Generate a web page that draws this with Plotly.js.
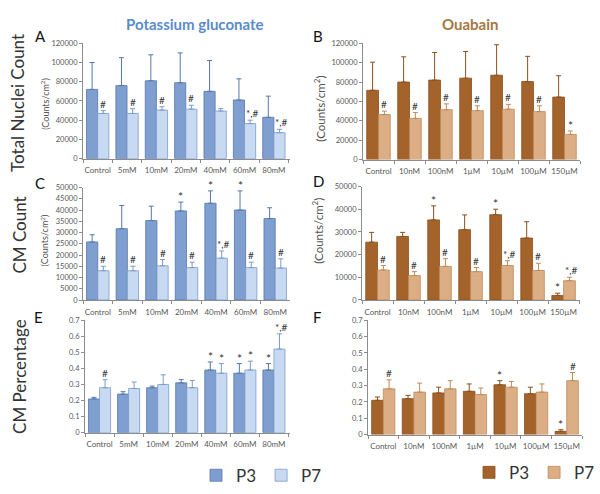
<!DOCTYPE html>
<html>
<head>
<meta charset="utf-8">
<script src="https://cdn.plot.ly/plotly-3.0.1.min.js"></script>
<style>html,body{margin:0;padding:0;background:#fff;}#chart{width:600px;height:494px;}</style>
</head>
<body>
<div id="chart"></div>
<script>
// ---- Data ----
const kgLabels = ['Control','5mM','10mM','20mM','40mM','60mM','80mM'];
const ouLabels = ['Control','10nM','100nM','1µM','10µM','100µM','150µM'];

// A: Total nuclei count, potassium gluconate
const A_P3 = [72000, 76000, 81000, 79000, 70000, 61000, 43000];
const A_P3_err = [28000, 29000, 27000, 31000, 32000, 22000, 22000];
const A_P7 = [47000, 47000, 50500, 51500, 49500, 36500, 27000];
const A_P7_err = [3000, 5000, 3500, 4000, 2500, 3500, 3500];
const A_P3_mark = ['', '', '', '', '', '', ''];
const A_P7_mark = ['#', '#', '#', '#', '', '*,#', '*,#'];

// B: Total nuclei count, ouabain
const B_P3 = [71500, 80000, 82000, 84000, 87000, 80500, 64500];
const B_P3_err = [29000, 26000, 28500, 27500, 31500, 26000, 22000];
const B_P7 = [46500, 42500, 51500, 50500, 52000, 49500, 26000];
const B_P7_err = [3500, 6000, 6000, 5000, 5000, 6000, 3500];
const B_P3_mark = ['', '', '', '', '', '', ''];
const B_P7_mark = ['#', '#', '#', '#', '#', '#', '*'];

// C: CM count, potassium gluconate
const C_P3 = [25800, 31700, 35300, 39600, 43000, 40000, 36200];
const C_P3_err = [3200, 10300, 6400, 3900, 5500, 8500, 4800];
const C_P7 = [13000, 13000, 15200, 14400, 18600, 14400, 14200];
const C_P7_err = [2000, 2000, 2800, 2400, 3200, 2400, 4100];
const C_P3_mark = ['', '', '', '*', '*', '*', ''];
const C_P7_mark = ['#', '#', '#', '#', '*,#', '#', '#'];

// D: CM count, ouabain
const D_P3 = [25500, 28000, 35300, 31000, 37600, 27300, 2000];
const D_P3_err = [4300, 1800, 6200, 6500, 2400, 7200, 1000];
const D_P7 = [13200, 10800, 14800, 12500, 15200, 13000, 8500];
const D_P7_err = [2000, 1700, 3400, 1800, 2100, 3200, 1500];
const D_P3_mark = ['', '', '*', '', '*', '', '*'];
const D_P7_mark = ['#', '#', '#', '#', '*,#', '#', '*,#'];

// E: CM percentage, potassium gluconate
const E_P3 = [0.21, 0.24, 0.28, 0.31, 0.39, 0.37, 0.39];
const E_P3_err = [0.01, 0.015, 0.01, 0.02, 0.05, 0.06, 0.04];
const E_P7 = [0.28, 0.275, 0.30, 0.28, 0.37, 0.39, 0.52];
const E_P7_err = [0.05, 0.04, 0.06, 0.045, 0.06, 0.055, 0.095];
const E_P3_mark = ['', '', '', '', '*', '*', '*'];
const E_P7_mark = ['#', '', '', '', '*', '*', '*,#'];

// F: CM percentage, ouabain
const F_P3 = [0.21, 0.22, 0.255, 0.265, 0.305, 0.25, 0.02];
const F_P3_err = [0.02, 0.02, 0.035, 0.045, 0.025, 0.04, 0.01];
const F_P7 = [0.28, 0.26, 0.28, 0.245, 0.29, 0.26, 0.33];
const F_P7_err = [0.055, 0.055, 0.05, 0.04, 0.035, 0.05, 0.05];
const F_P3_mark = ['', '', '', '', '*', '', '*'];
const F_P7_mark = ['#', '', '', '', '', '', '#'];

// ---- Styling ----
const FONT = 'Lato, "Open Sans", "DejaVu Sans", sans-serif';
const W = 600, H = 494;
const px = v => v / W;
const py = v => 1 - v / H;

const blue = {p3: '#7f9fd0', p3l: '#5577ad', p7: '#c8daf2', p7l: '#7b9bcb'};
const brown = {p3: '#a4632b', p3l: '#8a4f1e', p7: '#dcae86', p7l: '#c08a5a'};

const panels = [
  {id: 'A', ax: 1, labels: kgLabels, p3: A_P3, e3: A_P3_err, p7: A_P7, e7: A_P7_err, m3: A_P3_mark, m7: A_P7_mark,
   col: blue, x: [83, 290], y: [45, 165], range: [0, 120000], dtick: 20000, legend: 'legend', show: true},
  {id: 'B', ax: 2, labels: ouLabels, p3: B_P3, e3: B_P3_err, p7: B_P7, e7: B_P7_err, m3: B_P3_mark, m7: B_P7_mark,
   col: brown, x: [363, 580], y: [45, 166], range: [0, 120000], dtick: 20000, legend: 'legend2', show: true},
  {id: 'C', ax: 3, labels: kgLabels, p3: C_P3, e3: C_P3_err, p7: C_P7, e7: C_P7_err, m3: C_P3_mark, m7: C_P7_mark,
   col: blue, x: [83, 290], y: [195, 312], range: [0, 50000], dtick: 5000, legend: 'legend', show: false},
  {id: 'D', ax: 4, labels: ouLabels, p3: D_P3, e3: D_P3_err, p7: D_P7, e7: D_P7_err, m3: D_P3_mark, m7: D_P7_mark,
   col: brown, x: [362, 580], y: [194, 312], range: [0, 50000], dtick: 10000, legend: 'legend2', show: false},
  {id: 'E', ax: 5, labels: kgLabels, p3: E_P3, e3: E_P3_err, p7: E_P7, e7: E_P7_err, m3: E_P3_mark, m7: E_P7_mark,
   col: blue, x: [85, 290], y: [333, 450], range: [0, 0.7], dtick: 0.1, legend: 'legend', show: false},
  {id: 'F', ax: 6, labels: ouLabels, p3: F_P3, e3: F_P3_err, p7: F_P7, e7: F_P7_err, m3: F_P3_mark, m7: F_P7_mark,
   col: brown, x: [368, 582], y: [333, 452], range: [0, 0.7], dtick: 0.1, legend: 'legend2', show: false}
];

const traces = [];
const annotations = [];
const legendCommon = {orientation: 'h', yanchor: 'top',
  font: {family: FONT, size: 17, color: '#333'}, itemwidth: 30, tracegroupgap: 0, bgcolor: 'rgba(0,0,0,0)'};
const layout = {
  width: W, height: H,
  margin: {l: 0, r: 0, t: 0, b: 0},
  paper_bgcolor: '#fff', plot_bgcolor: 'rgba(0,0,0,0)',
  font: {family: FONT, color: '#595959', size: 9},
  barmode: 'group', bargap: 0.24, bargroupgap: 0,
  showlegend: true,
  legend: Object.assign({x: px(196), xanchor: 'left', y: py(476)}, legendCommon),
  legend2: Object.assign({x: 1, xanchor: 'right', y: py(473)}, legendCommon),
  annotations: annotations
};

panels.forEach(p => {
  const xa = p.ax === 1 ? 'x' : 'x' + p.ax;
  const ya = p.ax === 1 ? 'y' : 'y' + p.ax;
  const xkey = p.ax === 1 ? 'xaxis' : 'xaxis' + p.ax;
  const ykey = p.ax === 1 ? 'yaxis' : 'yaxis' + p.ax;
  traces.push({
    type: 'bar', name: 'P3', x: p.labels, y: p.p3, xaxis: xa, yaxis: ya,
    marker: {color: p.col.p3, line: {color: p.col.p3l, width: 0.8}},
    error_y: {type: 'data', array: p.e3, arrayminus: p.e3.map(() => 0), symmetric: false, color: p.col.p3l, thickness: 1, width: 2.5},
    legend: p.legend, showlegend: p.show, hoverinfo: 'skip'
  });
  traces.push({
    type: 'bar', name: 'P7', x: p.labels, y: p.p7, xaxis: xa, yaxis: ya,
    marker: {color: p.col.p7, line: {color: p.col.p7l, width: 0.8}},
    error_y: {type: 'data', array: p.e7, arrayminus: p.e7.map(() => 0), symmetric: false, color: p.col.p7l, thickness: 1, width: 2.5},
    legend: p.legend, showlegend: p.show, hoverinfo: 'skip'
  });
  layout[xkey] = {
    domain: [px(p.x[0]), px(p.x[1])], anchor: ya, type: 'category',
    showline: true, linecolor: '#8c8c8c', linewidth: 1,
    ticks: 'outside', ticklen: 3, tickcolor: '#8c8c8c', tickson: 'boundaries',
    tickangle: 0, automargin: false, ticklabelstandoff: 4,
    tickfont: {family: FONT, size: 8, color: '#595959'}, showgrid: false, zeroline: false,
    fixedrange: true
  };
  layout[ykey] = {
    domain: [py(p.y[1]), py(p.y[0])], anchor: xa, range: p.range, dtick: p.dtick,
    showline: true, linecolor: '#8c8c8c', linewidth: 1,
    ticks: 'outside', ticklen: 3, tickcolor: '#8c8c8c', automargin: false,
    tickfont: {family: FONT, size: 7.5, color: '#595959'}, showgrid: false, zeroline: false,
    tickformat: p.dtick < 1 ? '.1~f' : 'd', fixedrange: true
  };
  // significance markers
  const catW = (p.x[1] - p.x[0]) / p.labels.length;
  const off = catW * (1 - 0.24) / 4;
  const mfont = t => ({family: FONT, size: t === '*' ? 12 : 10, color: '#333'});
  p.labels.forEach((c, i) => {
    if (p.m3[i]) annotations.push({xref: xa, yref: ya, x: c, y: p.p3[i] + p.e3[i], text: p.m3[i],
      xshift: -off, yshift: p.m3[i] === '*' ? -4 : -1, yanchor: 'bottom', showarrow: false, font: mfont(p.m3[i])});
    if (p.m7[i]) annotations.push({xref: xa, yref: ya, x: c, y: p.p7[i] + p.e7[i], text: p.m7[i],
      xshift: off + (p.m7[i].length > 1 ? 2 : 0), yshift: p.m7[i] === '*' ? -4 : -1, yanchor: 'bottom', showarrow: false, font: mfont(p.m7[i])});
  });
});

// titles and labels
function txt(text, x, y, size, color, opts) {
  annotations.push(Object.assign({xref: 'paper', yref: 'paper', x: px(x), y: py(y), text: text, showarrow: false,
    xanchor: 'center', yanchor: 'middle', font: {family: FONT, size: size, color: color}}, opts || {}));
}
txt('<b>Potassium gluconate</b>', 195, 25, 15, '#5a8ccb');
txt('<b>Ouabain</b>', 470, 25, 15, '#a8773f');
txt('A', 40, 37, 15, '#111');
txt('B', 318, 37, 15, '#111');
txt('C', 40, 190, 15, '#111');
txt('D', 318, 188, 15, '#111');
txt('E', 38, 330, 15, '#111');
txt('F', 317, 330, 15, '#111');
txt('Total Nuclei Count', 18, 107, 17, '#333', {textangle: -90});
txt('CM Count', 20, 245, 17, '#333', {textangle: -90});
txt('CM Percentage', 20, 392, 17, '#333', {textangle: -90});
txt('(Counts/cm<sup>2</sup>)', 45, 108, 9, '#555', {textangle: -90});
txt('(Counts/cm<sup>2</sup>)', 45, 250, 9, '#555', {textangle: -90});
txt('(Counts/cm<sup>2</sup>)', 320, 113, 11.5, '#555', {textangle: -90});
txt('(Counts/cm<sup>2</sup>)', 318, 240, 11.5, '#555', {textangle: -90});

Plotly.newPlot('chart', traces, layout, {staticPlot: true, displayModeBar: false});
</script>
</body>
</html>
